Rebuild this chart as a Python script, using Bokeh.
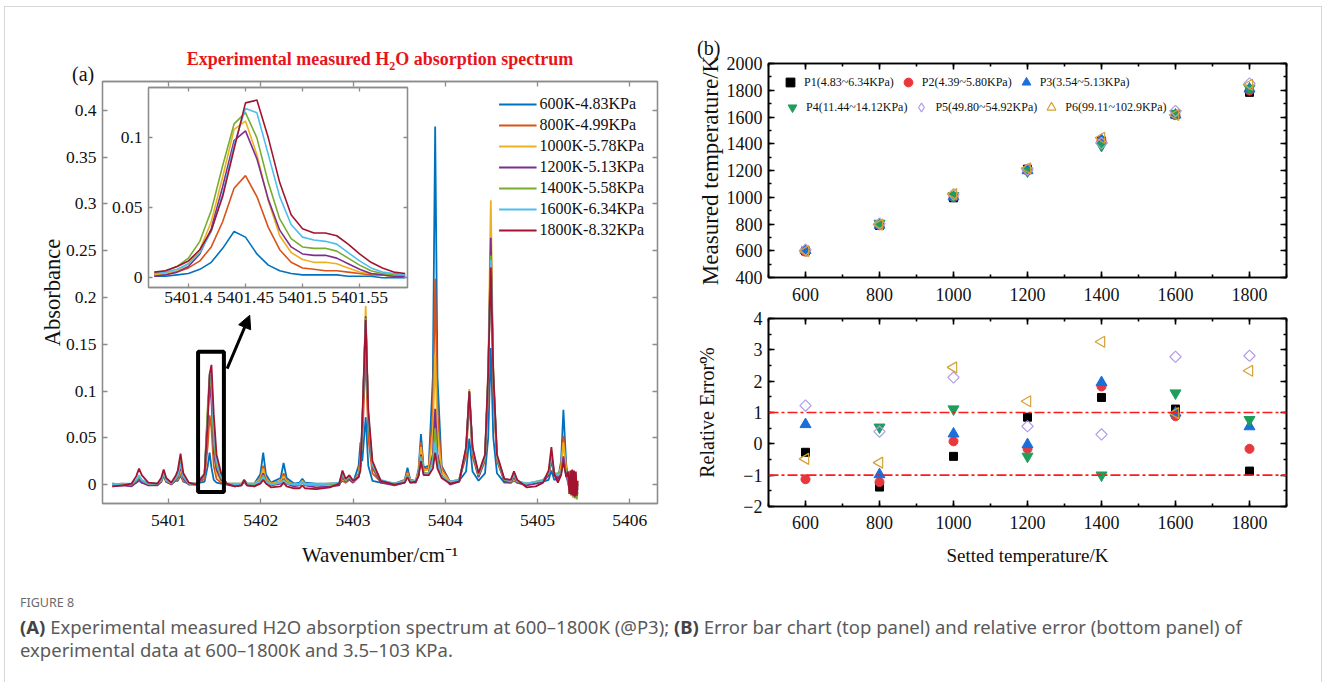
import numpy as np
from bokeh.plotting import figure
from bokeh.models import (Legend, LegendItem, LinearAxis, FixedTicker, SingleIntervalTicker,
                          Range1d, CustomJSTickFormatter, Span, Arrow, NormalHead, Div,
                          BoxAnnotation, Column)
from bokeh.embed import file_html
from bokeh.resources import INLINE

# ---------------- data: panel (a) full spectrum ----------------
wavenumber = [
    5400.39, 5400.50, 5400.60,
    5400.65, 5400.68, 5400.71,
    5400.78, 5400.88,
    5400.92, 5400.947, 5400.975,
    5401.03, 5401.08, 5401.10,
    5401.13, 5401.16, 5401.22,
    5401.30, 5401.39, 5401.425, 5401.445, 5401.465, 5401.49, 5401.52, 5401.57, 5401.63,
    5401.72, 5401.79, 5401.82, 5401.85, 5401.93,
    5401.995, 5402.026, 5402.055, 5402.11,
    5402.215, 5402.247, 5402.28, 5402.36,
    5402.42, 5402.45, 5402.48, 5402.60, 5402.75,
    5402.85, 5402.885, 5402.92, 5402.96, 5403.00,
    5403.06, 5403.08, 5403.10, 5403.137, 5403.165, 5403.21, 5403.30, 5403.45,
    5403.56, 5403.59, 5403.62, 5403.68,
    5403.71, 5403.736, 5403.765, 5403.82,
    5403.865, 5403.89, 5403.915, 5403.96, 5404.05, 5404.15,
    5404.225, 5404.26, 5404.295, 5404.36,
    5404.43, 5404.465, 5404.493, 5404.52, 5404.56, 5404.64,
    5404.71, 5404.744, 5404.78, 5404.88, 5404.98, 5405.06,
    5405.12, 5405.15, 5405.18, 5405.22,
    5405.255, 5405.28, 5405.31, 5405.33, 5405.345, 5405.355, 5405.365, 5405.375,
    5405.385, 5405.395, 5405.405, 5405.415, 5405.425, 5405.435,
]

abs_600K = [
    0.001, 0.000, 0.001,
    0.002, 0.004, 0.002,
    0.001, 0.001,
    0.003, 0.010, 0.003,
    0.001, 0.004, 0.004,
    0.010, 0.003, 0.001,
    0.001, 0.003, 0.020, 0.034, 0.018, 0.005, 0.002, 0.001, 0.001,
    0.001, 0.001, 0.004, 0.001, 0.001,
    0.011, 0.034, 0.011, 0.002,
    0.007, 0.023, 0.007, 0.001,
    0.002, 0.006, 0.002, 0.001, 0.001,
    0.001, 0.004, 0.002, 0.005, 0.002,
    0.020, 0.045, 0.025, 0.072, 0.020, 0.004, 0.002, 0.001,
    0.005, 0.018, 0.005, 0.004,
    0.016, 0.054, 0.018, 0.020,
    0.115, 0.383, 0.115, 0.020, 0.003, 0.004,
    0.014, 0.049, 0.014, 0.004,
    0.012, 0.050, 0.146, 0.050, 0.012, 0.002,
    0.002, 0.004, 0.002, 0.001, 0.002, 0.003,
    0.005, 0.015, 0.005, 0.006,
    0.025, 0.080, 0.022, 0.006, -0.002, 0.006, -0.001, 0.005, -0.002, 0.004, -0.003, 0.005, -0.002, 0.001,
]
abs_800K = [
    0.000, 0.001, 0.000,
    0.003, 0.005, 0.003,
    0.001, 0.000,
    0.003, 0.009, 0.003,
    0.001, 0.005, 0.005,
    0.012, 0.004, 0.001,
    0.001, 0.006, 0.042, 0.074, 0.060, 0.020, 0.006, 0.002, 0.001,
    0.000, 0.001, 0.004, 0.001, 0.000,
    0.007, 0.020, 0.007, 0.001,
    0.004, 0.012, 0.004, 0.000,
    0.001, 0.004, 0.001, 0.000, 0.001,
    0.001, 0.005, 0.002, 0.006, 0.002,
    0.012, 0.030, 0.045, 0.140, 0.050, 0.012, 0.003, 0.001,
    0.004, 0.014, 0.004, 0.004,
    0.014, 0.045, 0.016, 0.018,
    0.077, 0.220, 0.077, 0.018, 0.003, 0.005,
    0.030, 0.090, 0.030, 0.008,
    0.025, 0.100, 0.260, 0.100, 0.025, 0.004,
    0.002, 0.005, 0.002, 0.000, 0.002, 0.003,
    0.010, 0.025, 0.010, 0.008,
    0.020, 0.052, 0.018, 0.005, -0.003, 0.006, -0.002, 0.004, -0.004, 0.006, -0.003, 0.004, -0.005, 0.000,
]
abs_1000K = [
    0.000, 0.000, 0.001,
    0.003, 0.006, 0.003,
    0.000, 0.001,
    0.003, 0.009, 0.003,
    0.001, 0.005, 0.006,
    0.015, 0.005, 0.001,
    0.001, 0.010, 0.075, 0.114, 0.095, 0.035, 0.012, 0.004, 0.001,
    0.001, 0.001, 0.004, 0.001, 0.001,
    0.006, 0.017, 0.006, 0.001,
    0.003, 0.009, 0.003, 0.000,
    0.001, 0.004, 0.001, 0.000, 0.001,
    0.001, 0.006, 0.003, 0.006, 0.003,
    0.010, 0.025, 0.060, 0.191, 0.070, 0.018, 0.004, 0.001,
    0.004, 0.012, 0.004, 0.004,
    0.013, 0.040, 0.015, 0.016,
    0.056, 0.139, 0.056, 0.014, 0.003, 0.005,
    0.036, 0.102, 0.036, 0.010,
    0.030, 0.125, 0.304, 0.125, 0.030, 0.005,
    0.002, 0.006, 0.002, 0.001, 0.002, 0.004,
    0.012, 0.030, 0.012, 0.010,
    0.018, 0.045, 0.016, 0.006, -0.002, 0.007, -0.003, 0.006, -0.004, 0.005, -0.004, 0.006, -0.006, 0.001,
]
abs_1200K = [
    -0.002, -0.001, -0.002,
    0.002, 0.006, 0.002,
    -0.001, -0.001,
    0.003, 0.010, 0.003,
    0.000, 0.005, 0.007,
    0.020, 0.006, 0.000,
    0.000, 0.010, 0.078, 0.107, 0.090, 0.035, 0.016, 0.005, 0.000,
    -0.002, -0.001, 0.003, -0.001, -0.002,
    0.004, 0.012, 0.004, -0.001,
    0.001, 0.006, 0.001, -0.002,
    -0.001, 0.003, -0.001, -0.003, -0.002,
    -0.001, 0.008, 0.003, 0.006, 0.002,
    0.008, 0.020, 0.060, 0.180, 0.070, 0.018, 0.002, -0.001,
    0.002, 0.010, 0.002, 0.002,
    0.010, 0.032, 0.012, 0.012,
    0.033, 0.081, 0.033, 0.010, 0.000, 0.003,
    0.036, 0.100, 0.036, 0.008,
    0.028, 0.115, 0.264, 0.115, 0.028, 0.003,
    0.002, 0.008, 0.002, -0.001, 0.001, 0.003,
    0.010, 0.028, 0.010, 0.006,
    0.012, 0.030, 0.010, 0.002, -0.006, 0.004, -0.007, 0.003, -0.008, 0.002, -0.009, 0.003, -0.010, -0.004,
]
abs_1400K = [
    0.001, 0.000, 0.001,
    0.004, 0.008, 0.004,
    0.001, 0.001,
    0.004, 0.011, 0.004,
    0.001, 0.006, 0.009,
    0.025, 0.008, 0.001,
    0.001, 0.012, 0.085, 0.118, 0.105, 0.045, 0.021, 0.007, 0.001,
    0.000, 0.001, 0.005, 0.001, 0.000,
    0.004, 0.010, 0.004, 0.000,
    0.002, 0.005, 0.002, 0.000,
    0.000, 0.003, 0.000, -0.001, 0.000,
    0.001, 0.010, 0.004, 0.008, 0.003,
    0.009, 0.020, 0.060, 0.178, 0.070, 0.020, 0.004, 0.001,
    0.003, 0.010, 0.003, 0.004,
    0.010, 0.030, 0.012, 0.012,
    0.027, 0.060, 0.027, 0.009, 0.003, 0.005,
    0.037, 0.098, 0.037, 0.010,
    0.028, 0.115, 0.245, 0.115, 0.028, 0.005,
    0.003, 0.010, 0.003, 0.001, 0.003, 0.005,
    0.012, 0.030, 0.012, 0.012,
    0.014, 0.022, 0.015, 0.012, -0.010, 0.014, -0.012, 0.012, -0.014, 0.010, -0.015, 0.011, -0.016, -0.008,
]
abs_1600K = [
    0.000, 0.001, 0.001,
    0.005, 0.010, 0.005,
    0.001, 0.001,
    0.005, 0.012, 0.005,
    0.002, 0.007, 0.010,
    0.022, 0.009, 0.001,
    0.001, 0.010, 0.070, 0.115, 0.118, 0.060, 0.026, 0.009, 0.001,
    0.000, 0.001, 0.004, 0.001, 0.001,
    0.003, 0.008, 0.003, 0.000,
    0.002, 0.004, 0.001, 0.000,
    0.000, 0.003, 0.000, 0.000, 0.001,
    0.002, 0.012, 0.005, 0.009, 0.004,
    0.009, 0.020, 0.065, 0.175, 0.075, 0.022, 0.005, 0.001,
    0.003, 0.009, 0.003, 0.004,
    0.010, 0.028, 0.011, 0.011,
    0.023, 0.045, 0.023, 0.008, 0.003, 0.005,
    0.038, 0.097, 0.038, 0.011,
    0.030, 0.118, 0.240, 0.118, 0.030, 0.006,
    0.004, 0.012, 0.004, 0.001, 0.003, 0.004,
    0.013, 0.033, 0.013, 0.010,
    0.012, 0.025, 0.010, 0.006, -0.004, 0.007, -0.005, 0.006, -0.006, 0.005, -0.007, 0.005, -0.008, -0.002,
]
abs_1800K = [
    -0.002, -0.001, 0.001,
    0.009, 0.017, 0.010,
    0.002, 0.001,
    0.007, 0.016, 0.007,
    0.002, 0.010, 0.015,
    0.033, 0.012, 0.002,
    0.000, 0.011, 0.068, 0.118, 0.128, 0.075, 0.032, 0.012, 0.001,
    -0.002, -0.001, 0.005, -0.001, -0.002,
    0.001, 0.005, 0.001, -0.003,
    -0.002, 0.002, -0.002, -0.004,
    -0.004, -0.001, -0.004, -0.005, -0.003,
    0.001, 0.015, 0.006, 0.010, 0.004,
    0.008, 0.015, 0.070, 0.176, 0.080, 0.025, 0.004, 0.000,
    0.002, 0.008, 0.002, 0.003,
    0.009, 0.025, 0.010, 0.010,
    0.017, 0.034, 0.017, 0.007, 0.001, 0.003,
    0.040, 0.099, 0.040, 0.012,
    0.032, 0.120, 0.232, 0.120, 0.032, 0.006,
    0.005, 0.014, 0.005, -0.003, -0.002, 0.002,
    0.015, 0.040, 0.012, 0.002,
    0.010, 0.025, 0.008, 0.014, -0.010, 0.015, -0.011, 0.016, -0.012, 0.015, -0.013, 0.014, -0.012, 0.004,
]
spectrum_labels = ["600K-4.83KPa", "800K-4.99KPa", "1000K-5.78KPa", "1200K-5.13KPa",
                   "1400K-5.58KPa", "1600K-6.34KPa", "1800K-8.32KPa"]

# ---------------- data: inset (zoom of the 5401.45 line) ----------------
inset_wavenumber = [5401.37, 5401.38, 5401.39, 5401.40, 5401.41, 5401.42, 5401.43, 5401.44,
                    5401.45, 5401.46, 5401.47, 5401.48, 5401.49, 5401.50, 5401.51, 5401.52,
                    5401.53, 5401.54, 5401.55, 5401.56, 5401.57, 5401.58, 5401.59]
inset_600K = [0.001, 0.001, 0.002, 0.003, 0.006, 0.011, 0.021, 0.033, 0.029, 0.017, 0.009, 0.005,
              0.003, 0.002, 0.002, 0.002, 0.002, 0.001, 0.001, 0.001, 0.000, 0.000, 0.000]
inset_800K = [0.002, 0.003, 0.004, 0.007, 0.012, 0.022, 0.040, 0.064, 0.073, 0.058, 0.036, 0.020,
              0.011, 0.007, 0.006, 0.005, 0.005, 0.004, 0.003, 0.002, 0.002, 0.001, 0.001]
inset_1000K = [0.002, 0.003, 0.005, 0.010, 0.020, 0.040, 0.072, 0.106, 0.112, 0.088, 0.055, 0.030,
               0.018, 0.013, 0.011, 0.011, 0.010, 0.007, 0.004, 0.003, 0.002, 0.001, 0.001]
inset_1200K = [0.001, 0.002, 0.004, 0.008, 0.017, 0.035, 0.065, 0.098, 0.105, 0.085, 0.056, 0.034,
               0.022, 0.017, 0.016, 0.016, 0.014, 0.010, 0.006, 0.003, 0.002, 0.001, 0.001]
inset_1400K = [0.003, 0.005, 0.008, 0.014, 0.026, 0.048, 0.080, 0.110, 0.118, 0.100, 0.068, 0.042,
               0.028, 0.022, 0.021, 0.021, 0.019, 0.014, 0.009, 0.005, 0.003, 0.002, 0.002]
inset_1600K = [0.003, 0.004, 0.006, 0.010, 0.018, 0.033, 0.060, 0.095, 0.121, 0.118, 0.088, 0.058,
               0.038, 0.029, 0.027, 0.026, 0.024, 0.018, 0.012, 0.007, 0.004, 0.003, 0.002]
inset_1800K = [0.004, 0.005, 0.008, 0.012, 0.020, 0.034, 0.058, 0.092, 0.125, 0.127, 0.100, 0.068,
               0.045, 0.035, 0.032, 0.032, 0.030, 0.024, 0.017, 0.011, 0.007, 0.004, 0.003]

# ---------------- data: panel (b) ----------------
set_temperature = [600, 800, 1000, 1200, 1400, 1600, 1800]
measured_P1 = [598.4, 789.0, 996.0, 1210.2, 1420.7, 1617.8, 1784.3]
measured_P2 = [593.2, 790.2, 1000.8, 1198.1, 1425.6, 1614.1, 1797.1]
measured_P3 = [603.7, 792.2, 1003.2, 1199.8, 1427.4, 1615.8, 1809.9]
measured_P4 = [np.nan, 804.2, 1011.1, 1195.2, 1386.0, 1625.9, 1813.9]
measured_P5 = [607.3, 803.1, 1021.2, 1206.7, 1404.2, 1644.5, 1850.6]
measured_P6 = [597.1, 795.2, 1024.4, 1216.3, 1445.6, 1615.7, 1841.9]
error_P1 = [-0.27, -1.38, -0.40, 0.85, 1.48, 1.11, -0.87]
error_P2 = [-1.13, -1.22, 0.08, -0.16, 1.83, 0.88, -0.16]
error_P3 = [0.62, -0.98, 0.32, -0.02, 1.96, 0.99, 0.55]
error_P4 = [np.nan, 0.53, 1.11, -0.40, -1.00, 1.62, 0.77]
error_P5 = [1.22, 0.39, 2.12, 0.56, 0.30, 2.78, 2.81]
error_P6 = [-0.48, -0.60, 2.44, 1.36, 3.26, 0.98, 2.33]
pressure_labels = ["P1(4.83~6.34KPa)", "P2(4.39~5.80KPa)", "P3(3.54~5.13KPa)",
                   "P4(11.44~14.12KPa)", "P5(49.80~54.92KPa)", "P6(99.11~102.9KPa)"]
error_limits = [1, -1]

# ticks
wn_ticks = [5401, 5402, 5403, 5404, 5405, 5406]
abs_ticks = [0, 0.05, 0.1, 0.15, 0.2, 0.25, 0.3, 0.35, 0.4]
inset_wn_ticks = [5401.4, 5401.45, 5401.5, 5401.55]
inset_abs_ticks = [0, 0.05, 0.1]

# zoom box and arrow (data coordinates)
box_wn = [5401.32, 5401.60]
box_abs = [-0.008, 0.142]
arrow_wn = [5401.635, 5401.88]
arrow_abs = [0.124, 0.181]

# ---------------- styling helpers ----------------
SERIF = "Liberation Serif"
TXT = "#111111"
SPEC_COLORS = ["#0072BD", "#D95319", "#EDB120", "#7E2F8E", "#77AC30", "#4DBEEE", "#A2142F"]


def pos(left, top, extra=None):
    s = {"position": "absolute", "left": f"{left}px", "top": f"{top}px", "margin": "0px"}
    if extra:
        s.update(extra)
    return s


def style_axis(ax, color, lw, font_size, tick_in=5, minor_in=0, hide=False):
    ax.axis_line_color = color
    ax.axis_line_width = lw
    ax.major_tick_line_color = color
    ax.major_tick_line_width = lw
    ax.major_tick_in = tick_in
    ax.major_tick_out = 0
    if minor_in:
        ax.minor_tick_line_color = color
        ax.minor_tick_line_width = lw
        ax.minor_tick_in = minor_in
        ax.minor_tick_out = 0
    else:
        ax.minor_tick_line_color = None
    ax.major_label_text_font = SERIF
    ax.major_label_text_font_size = font_size
    ax.major_label_text_color = TXT
    ax.axis_label_text_font = SERIF
    ax.axis_label_text_font_style = "normal"
    ax.axis_label_text_color = TXT
    if hide:
        ax.formatter = CustomJSTickFormatter(code="return ''")
        ax.major_label_standoff = 0
        ax.major_label_text_font_size = "1px"


num_fmt = "return String(Math.round(tick*100)/100)"
gray = "#8c8c8c"
common = dict(output_backend="svg", toolbar_location=None, frame_align=False,
              border_fill_color=None, background_fill_color="white")

# ---------------- panel (a) main: frame 102..657 x 81..503 ----------------
MAIN_L, MAIN_R = 102, 40
main = figure(width=MAIN_L + 555 + MAIN_R, height=578, x_range=Range1d(5400.284, 5406.30),
              y_range=Range1d(-0.0203, 0.431),
              min_border_left=MAIN_L, min_border_right=MAIN_R, min_border_top=81, min_border_bottom=75,
              **common)
main.xgrid.visible = False
main.ygrid.visible = False
main.outline_line_color = gray
main.outline_line_width = 1.3
xa = main.xaxis[0]
ya = main.yaxis[0]
xa.ticker = FixedTicker(ticks=wn_ticks)
ya.ticker = FixedTicker(ticks=abs_ticks)
ya.formatter = CustomJSTickFormatter(code=num_fmt)
style_axis(xa, gray, 1.3, "17.5px")
style_axis(ya, gray, 1.3, "17.5px")
xa.axis_label = "Wavenumber/cm\u207b\u00b9"
ya.axis_label = "Absorbance"
xa.axis_label_text_font_size = "21px"
ya.axis_label_text_font_size = "22.5px"
xa.major_label_standoff = 11
xa.axis_label_standoff = 14
ya.major_label_standoff = 6
ya.axis_label_standoff = -2
ax_top = LinearAxis(ticker=FixedTicker(ticks=wn_ticks))
style_axis(ax_top, gray, 1.3, "17px", hide=True)
main.add_layout(ax_top, "above")
ax_right = LinearAxis(ticker=FixedTicker(ticks=abs_ticks))
style_axis(ax_right, gray, 1.3, "17px", hide=True)
main.add_layout(ax_right, "right")

spectra = [abs_600K, abs_800K, abs_1000K, abs_1200K, abs_1400K, abs_1600K, abs_1800K]
spec_renderers = []
for ys, c in zip(spectra, SPEC_COLORS):
    r = main.line(wavenumber, ys, line_color=c, line_width=1.8)
    spec_renderers.append(r)

leg_a = Legend(items=[LegendItem(label=l, renderers=[r]) for l, r in zip(spectrum_labels, spec_renderers)],
               location="top_right", border_line_color=None, background_fill_alpha=0,
               label_text_font=SERIF, label_text_font_size="16px", label_text_color=TXT,
               glyph_width=38, glyph_height=20, label_height=20, spacing=1,
               padding=9, margin=13, label_standoff=3)
main.add_layout(leg_a)

main.add_layout(BoxAnnotation(left=box_wn[0], right=box_wn[1], bottom=box_abs[0], top=box_abs[1],
                              fill_color=None, line_color="black", line_alpha=1.0, line_width=4))
main.add_layout(Arrow(end=NormalHead(size=13, fill_color="black", line_color="black"),
                      x_start=arrow_wn[0], y_start=arrow_abs[0], x_end=arrow_wn[1], y_end=arrow_abs[1],
                      line_color="black", line_width=3))
main.styles = pos(0, 0)

# ---------------- panel (a) inset: frame 148..407 x 87..287 ----------------
IN_L, IN_R = 60, 30
inset = figure(width=IN_L + 259 + IN_R, height=233, x_range=Range1d(5401.365, 5401.592),
               y_range=Range1d(-0.007, 0.136),
               min_border_left=IN_L, min_border_right=IN_R, min_border_top=3, min_border_bottom=30,
               **common)
inset.xgrid.visible = False
inset.ygrid.visible = False
inset.outline_line_color = gray
inset.outline_line_width = 1.3
ix = inset.xaxis[0]
iy = inset.yaxis[0]
ix.ticker = FixedTicker(ticks=inset_wn_ticks)
iy.ticker = FixedTicker(ticks=inset_abs_ticks)
ix.formatter = CustomJSTickFormatter(code=num_fmt)
iy.formatter = CustomJSTickFormatter(code=num_fmt)
style_axis(ix, gray, 1.3, "17.5px", tick_in=4)
style_axis(iy, gray, 1.3, "17.5px", tick_in=4)
ix.major_label_standoff = 4
iy.major_label_standoff = 6
in_top = LinearAxis(ticker=FixedTicker(ticks=inset_wn_ticks))
style_axis(in_top, gray, 1.3, "17px", tick_in=4, hide=True)
inset.add_layout(in_top, "above")
in_right = LinearAxis(ticker=FixedTicker(ticks=inset_abs_ticks))
style_axis(in_right, gray, 1.3, "17px", tick_in=4, hide=True)
inset.add_layout(in_right, "right")
for ys, c in zip([inset_600K, inset_800K, inset_1000K, inset_1200K, inset_1400K, inset_1600K, inset_1800K],
                 SPEC_COLORS):
    inset.line(inset_wavenumber, ys, line_color=c, line_width=1.6)
inset.styles = pos(148 - IN_L, 84)

# ---------------- panel (b) ----------------
MARKERS = [
    dict(marker="square", size=8, fill_color="#000000", line_color="#000000"),
    dict(marker="circle", size=9, fill_color="#E8383D", line_color="#E8383D"),
    dict(marker="triangle", size=11, fill_color="#1A6FDB", line_color="#1A6FDB"),
    dict(marker="inverted_triangle", size=11, fill_color="#1E9E5A", line_color="#1E9E5A"),
    dict(marker="square", size=8, angle=np.pi / 4, fill_color=None, line_color="#B39CE6", line_width=1.2),
    dict(marker="triangle", size=11, angle=np.pi / 2, fill_color=None, line_color="#D4A237", line_width=1.2),
]
B_L, B_R = 100, 40


def panel_b(height, top_border, bottom_border, y_lo, y_hi, y_interval):
    f = figure(width=B_L + 518 + B_R, height=height, x_range=Range1d(500, 1900), y_range=Range1d(y_lo, y_hi),
               min_border_left=B_L, min_border_right=B_R, min_border_top=top_border,
               min_border_bottom=bottom_border, **common)
    f.xgrid.visible = False
    f.ygrid.visible = False
    f.outline_line_color = "black"
    f.outline_line_width = 1.6
    bx = f.xaxis[0]
    by = f.yaxis[0]
    bx.ticker = SingleIntervalTicker(interval=200, num_minor_ticks=2)
    by.ticker = SingleIntervalTicker(interval=y_interval, num_minor_ticks=2)
    style_axis(bx, "black", 1.6, "18px", tick_in=6, minor_in=3)
    style_axis(by, "black", 1.6, "18px", tick_in=6, minor_in=3)
    bx.major_label_standoff = 9
    by.major_label_standoff = 6
    a1 = LinearAxis(ticker=SingleIntervalTicker(interval=200, num_minor_ticks=2))
    style_axis(a1, "black", 1.6, "18px", tick_in=6, minor_in=3, hide=True)
    f.add_layout(a1, "above")
    a2 = LinearAxis(ticker=SingleIntervalTicker(interval=y_interval, num_minor_ticks=2))
    style_axis(a2, "black", 1.6, "18px", tick_in=6, minor_in=3, hide=True)
    f.add_layout(a2, "right")
    return f, bx, by


top_b, tbx, tby = panel_b(269, 23, 32, 400, 2000, 200)
tbx.major_label_standoff = 10
tby.axis_label = "Measured temperature/K"
tby.axis_label_text_font_size = "23px"
tby.axis_label_standoff = 1
measured = [measured_P1, measured_P2, measured_P3, measured_P4, measured_P5, measured_P6]
top_renderers = []
for ys, mk in zip(measured, MARKERS):
    top_renderers.append(top_b.scatter(set_temperature, np.array(ys, dtype=float), **mk))
# hidden twin of the P5 series used only as the legend swatch (legend swatches ignore rotation)
p5_swatch = top_b.scatter(set_temperature, np.array(measured_P5, dtype=float), marker="diamond",
                          size=12, fill_color=None, line_color="#B39CE6", line_width=1.2, visible=False)
legend_renderers = top_renderers[:4] + [p5_swatch, top_renderers[5]]

leg_kw = dict(orientation="horizontal", border_line_color=None, background_fill_alpha=0,
              inactive_fill_alpha=0,
              label_text_font=SERIF, label_text_font_size="12px", label_text_color=TXT,
              glyph_width=22, glyph_height=22, label_height=22, padding=0, margin=0,
              spacing=3, label_standoff=3)
leg_b1 = Legend(items=[LegendItem(label=l, renderers=[r]) for l, r in zip(pressure_labels[:3], legend_renderers[:3])],
                location=(11, 184), **leg_kw)
leg_b2 = Legend(items=[LegendItem(label=l, renderers=[r]) for l, r in zip(pressure_labels[3:], legend_renderers[3:])],
                location=(13, 159), **leg_kw)
top_b.add_layout(leg_b1)
top_b.add_layout(leg_b2)
top_b.styles = pos(768 - B_L, 40)

bot_b, bbx, bby = panel_b(270, 18, 64, -2, 4, 1)
bby.axis_label = "Relative Error%"
bby.axis_label_text_font_size = "20px"
bby.axis_label_standoff = 22
bbx.axis_label = "Setted temperature/K"
bbx.axis_label_text_font_size = "19px"
bbx.axis_label_standoff = 13
for lim in error_limits:
    bot_b.add_layout(Span(location=lim, dimension="width", line_color="#FF1A1A",
                          line_width=1.6, line_dash="10 3 3 3"))
errors = [error_P1, error_P2, error_P3, error_P4, error_P5, error_P6]
for ys, mk in zip(errors, MARKERS):
    bot_b.scatter(set_temperature, np.array(ys, dtype=float), **mk)
bot_b.styles = pos(768 - B_L, 300)

# ---------------- texts ----------------
card = Div(text="", width=1318, height=700, margin=0,
           styles=pos(4, 6, {"border": "1px solid #d6d6d6", "box-sizing": "border-box"}))
title = Div(text="Experimental measured H<sub style='font-size:12px'>2</sub>O absorption spectrum",
            width=420, height=26, margin=0,
            styles=pos(170, 47, {"color": "#E8141B", "font-family": SERIF, "font-weight": "bold",
                                 "font-size": "18px", "text-align": "center", "white-space": "nowrap"}))
lab_a = Div(text="(a)", width=30, height=26, margin=0,
            styles=pos(72, 60, {"font-family": SERIF, "font-size": "20px", "color": TXT}))
lab_b = Div(text="(b)", width=30, height=26, margin=0,
            styles=pos(697, 34, {"font-family": SERIF, "font-size": "20px", "color": TXT}))
fig_no = Div(text="FIGURE 8", width=200, height=18, margin=0,
             styles=pos(20, 594, {"font-family": "Noto Sans", "font-size": "12.5px", "color": "#6b6b6b"}))
caption = Div(text=("<b style='color:#444'>(A)</b> Experimental measured H2O absorption spectrum at "
                    "600\u20131800K (@P3); <b style='color:#444'>(B)</b> Error bar chart (top panel) and "
                    "relative error (bottom panel) of<br>experimental data at 600\u20131800K and "
                    "3.5\u2013103 KPa."),
              width=1290, height=50, margin=0,
              styles=pos(20, 615, {"font-family": "Noto Sans", "font-size": "18.5px", "color": "#5a5a5a",
                                   "line-height": "23px", "white-space": "nowrap"}))

root = Column(children=[card, main, inset, top_b, bot_b, title, lab_a, lab_b, fig_no, caption],
              width=1328, height=682, sizing_mode="fixed",
              styles={"position": "relative", "width": "1328px", "height": "682px"})

open("out.html", "w").write(file_html(root, INLINE))
